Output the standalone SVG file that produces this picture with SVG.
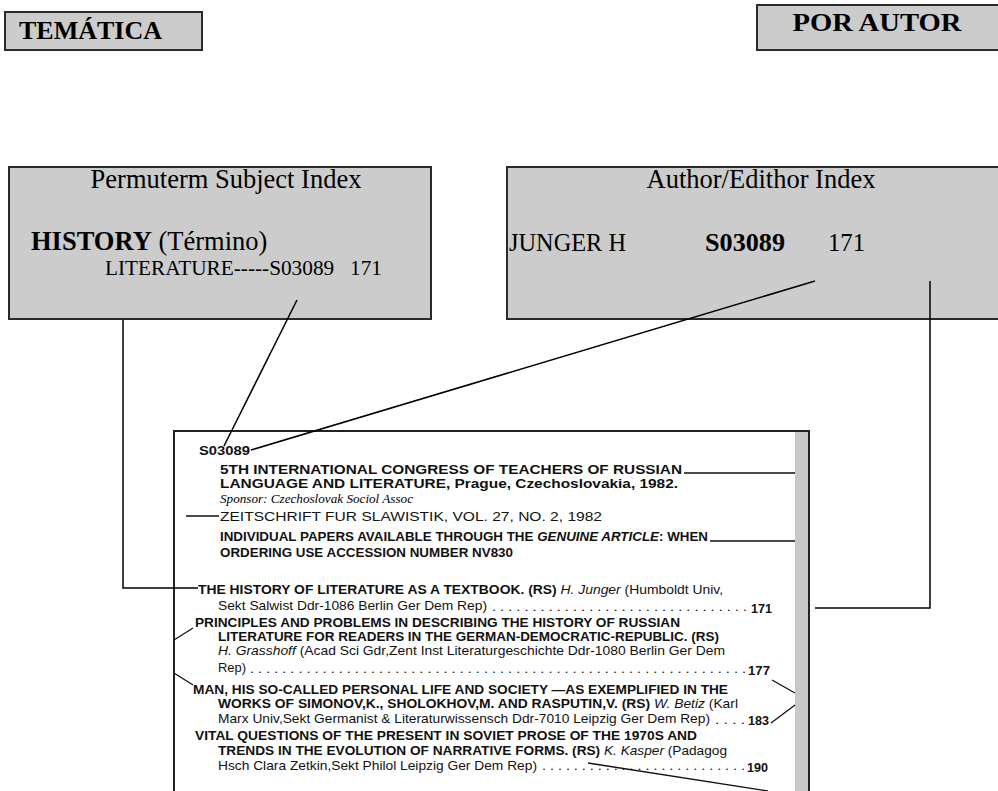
<svg xmlns="http://www.w3.org/2000/svg" width="998" height="791" viewBox="0 0 998 791">
<style>
.box{fill:#cccccc;stroke:#2a2a2a;stroke-width:2}
.t{font-family:"Liberation Serif","Times New Roman",serif;fill:#000}
.s{font-family:"Liberation Sans",Arial,Helvetica,sans-serif;font-size:13.5px;fill:#111}
.b{font-weight:bold}
.i{font-style:italic}
.c{fill:none;stroke:#000;stroke-width:1.5}
.sc{fill:none;stroke:#111;stroke-width:1.3}
</style>
<rect width="998" height="791" fill="#fff"/>

<g id="tematica">
<rect class="box" x="5" y="12" width="197" height="38"/>
<text class="t b" x="19" y="39" font-size="26" textLength="143" lengthAdjust="spacingAndGlyphs">TEMÁTICA</text>
</g>

<g id="por-autor">
<rect class="box" x="757" y="5" width="242" height="45"/>
<text class="t b" x="877" y="31" font-size="26" text-anchor="middle" textLength="169" lengthAdjust="spacingAndGlyphs">POR AUTOR</text>
</g>

<g id="permuterm-subject-index">
<rect class="box" x="9" y="167" width="422" height="152"/>
<text class="t" x="226" y="188" font-size="26.5" text-anchor="middle">Permuterm Subject Index</text>
<text class="t" x="31" y="250" font-size="26.5"><tspan class="b">HISTORY</tspan> (Término)</text>
<text class="t" x="105" y="275" font-size="21" textLength="277" lengthAdjust="spacingAndGlyphs">LITERATURE-----S03089&#160;&#160; 171</text>
</g>

<g id="author-index">
<rect class="box" x="507" y="167" width="492" height="152"/>
<text class="t" x="761" y="188" font-size="26.5" text-anchor="middle">Author/Edithor Index</text>
<text class="t" x="509" y="251" font-size="25" textLength="117" lengthAdjust="spacingAndGlyphs">JUNGER H</text>
<text class="t b" x="705" y="251" font-size="25" textLength="80" lengthAdjust="spacingAndGlyphs">S03089</text>
<text class="t" x="828" y="251" font-size="25" textLength="37" lengthAdjust="spacingAndGlyphs">171</text>
</g>

<g id="scan">
<rect x="795" y="432" width="13" height="360" fill="#c8c8c8"/>
<path d="M174,791 V431 H809 V791" fill="none" stroke="#222" stroke-width="2"/>
<path class="sc" d="M186,516 H219 M684,473 H795 M710,541 H795 M174,640 L193,628 M174,673 L193,685 M772,680 L795,693 M795,705 L771,723 M588,763 L768,791"/>
<text class="s b" x="199" y="455" textLength="51" lengthAdjust="spacingAndGlyphs">S03089</text>
<text class="s b" x="220" y="474" textLength="462" lengthAdjust="spacingAndGlyphs">5TH INTERNATIONAL CONGRESS OF TEACHERS OF RUSSIAN</text>
<text class="s b" x="220" y="488" textLength="458" lengthAdjust="spacingAndGlyphs">LANGUAGE AND LITERATURE, Prague, Czechoslovakia, 1982.</text>
<text class="t i" x="220" y="503" font-size="12" textLength="193" lengthAdjust="spacingAndGlyphs">Sponsor: Czechoslovak Sociol Assoc</text>
<text class="s" x="220" y="521" font-size="14" textLength="382" lengthAdjust="spacingAndGlyphs">ZEITSCHRIFT FUR SLAWISTIK, VOL. 27, NO. 2, 1982</text>
<text class="s b" x="220" y="541" textLength="488" lengthAdjust="spacingAndGlyphs">INDIVIDUAL PAPERS AVAILABLE THROUGH THE <tspan class="i">GENUINE ARTICLE</tspan>: WHEN</text>
<text class="s b" x="220" y="557" textLength="293" lengthAdjust="spacingAndGlyphs">ORDERING USE ACCESSION NUMBER NV830</text>

<text class="s" x="198" y="594" textLength="525" lengthAdjust="spacingAndGlyphs"><tspan class="b">THE HISTORY OF LITERATURE AS A TEXTBOOK. (RS)</tspan> <tspan class="i">H. Junger</tspan> (Humboldt Univ,</text>
<text class="s" x="218" y="610" textLength="269" lengthAdjust="spacingAndGlyphs">Sekt Salwist Ddr-1086 Berlin Ger Dem Rep)</text>
<text class="s" x="492" y="611" textLength="255" lengthAdjust="spacingAndGlyphs">. . . . . . . . . . . . . . . . . . . . . . . . . . . . . . . .</text>
<text class="s b" x="751" y="613" textLength="21" lengthAdjust="spacingAndGlyphs">171</text>

<text class="s b" x="195" y="627" textLength="485" lengthAdjust="spacingAndGlyphs">PRINCIPLES AND PROBLEMS IN DESCRIBING THE HISTORY OF RUSSIAN</text>
<text class="s b" x="218" y="641" textLength="501" lengthAdjust="spacingAndGlyphs">LITERATURE FOR READERS IN THE GERMAN-DEMOCRATIC-REPUBLIC. (RS)</text>
<text class="s" x="218" y="655" textLength="507" lengthAdjust="spacingAndGlyphs"><tspan class="i">H. Grasshoff</tspan> (Acad Sci Gdr,Zent Inst Literaturgeschichte Ddr-1080 Berlin Ger Dem</text>
<text class="s" x="218" y="672" textLength="28" lengthAdjust="spacingAndGlyphs">Rep)</text>
<text class="s" x="250" y="673" textLength="496" lengthAdjust="spacingAndGlyphs">. . . . . . . . . . . . . . . . . . . . . . . . . . . . . . . . . . . . . . . . . . . . . . . . . . . . . . . . . . . . . .</text>
<text class="s b" x="748" y="675" textLength="22" lengthAdjust="spacingAndGlyphs">177</text>

<text class="s b" x="193" y="694" textLength="535" lengthAdjust="spacingAndGlyphs">MAN, HIS SO-CALLED PERSONAL LIFE AND SOCIETY —AS EXEMPLIFIED IN THE</text>
<text class="s" x="218" y="708" textLength="520" lengthAdjust="spacingAndGlyphs"><tspan class="b">WORKS OF SIMONOV,K., SHOLOKHOV,M. AND RASPUTIN,V. (RS)</tspan> <tspan class="i">W. Betiz</tspan> (Karl</text>
<text class="s" x="218" y="723" textLength="492" lengthAdjust="spacingAndGlyphs">Marx Univ,Sekt Germanist &amp; Literaturwissensch Ddr-7010 Leipzig Ger Dem Rep)</text>
<text class="s" x="715" y="724" textLength="30" lengthAdjust="spacingAndGlyphs">. . . .</text>
<text class="s b" x="748" y="725" textLength="21" lengthAdjust="spacingAndGlyphs">183</text>

<text class="s b" x="195" y="740" textLength="502" lengthAdjust="spacingAndGlyphs">VITAL QUESTIONS OF THE PRESENT IN SOVIET PROSE OF THE 1970S AND</text>
<text class="s" x="218" y="755" textLength="509" lengthAdjust="spacingAndGlyphs"><tspan class="b">TRENDS IN THE EVOLUTION OF NARRATIVE FORMS. (RS)</tspan> <tspan class="i">K. Kasper</tspan> (Padagog</text>
<text class="s" x="218" y="770" textLength="319" lengthAdjust="spacingAndGlyphs">Hsch Clara Zetkin,Sekt Philol Leipzig Ger Dem Rep)</text>
<text class="s" x="542" y="770" textLength="203" lengthAdjust="spacingAndGlyphs">. . . . . . . . . . . . . . . . . . . . . . . . . .</text>
<text class="s b" x="747" y="772" textLength="21" lengthAdjust="spacingAndGlyphs">190</text>
</g>

<g id="connectors">
<path class="c" d="M123,320 V588 H198"/>
<path class="c" d="M297,300 L224,446"/>
<path class="c" d="M815,281 L251,450"/>
<path class="c" d="M930,281 V608 H815"/>
</g>
</svg>
